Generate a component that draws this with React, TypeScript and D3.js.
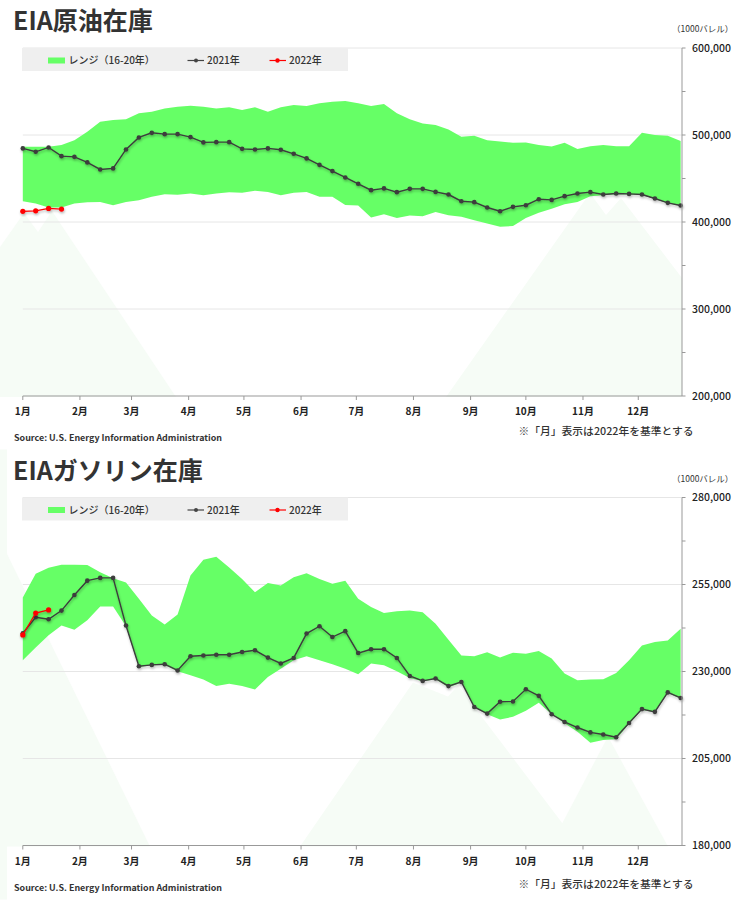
import React from "react";
import * as d3 from "d3";

// ---- data (values in 1000 barrels; weekly, 52 weeks) ----
const crudeHigh = [486.4, 486.4, 486.4, 488.4, 494.1, 503.7, 515.2, 517.1, 518.0, 524.9, 526.7, 530.6, 532.5, 533.6, 532.5, 530.6, 531.8, 528.7, 531.8, 526.7, 531.8, 534.4, 533.3, 536.4, 538.2, 539.0, 536.4, 533.3, 535.6, 524.9, 518.0, 513.3, 511.4, 506.4, 497.9, 499.1, 494.1, 492.6, 491.0, 491.5, 488.4, 486.9, 491.0, 483.8, 487.2, 488.4, 487.2, 487.2, 502.5, 499.9, 499.1, 493.0];
const crudeLow = [423.9, 421.3, 416.7, 416.7, 421.3, 422.8, 423.1, 419.3, 423.1, 425.1, 428.9, 432.0, 431.2, 432.8, 430.8, 432.8, 434.3, 433.5, 435.8, 434.6, 430.8, 433.5, 434.6, 428.9, 428.9, 419.5, 419.0, 405.2, 409.0, 404.7, 407.5, 406.7, 411.6, 407.8, 405.9, 402.1, 398.3, 394.4, 395.5, 404.7, 410.5, 415.1, 420.5, 423.1, 429.7, 430.8, 432.0, 431.5, 431.0, 426.5, 421.5, 418.5];
const crude2021 = [484.6, 480.7, 485.7, 475.7, 474.9, 468.5, 460.4, 461.6, 483.4, 497.2, 502.5, 501.0, 501.0, 497.6, 491.5, 491.8, 491.8, 484.1, 483.4, 484.6, 483.0, 478.4, 473.1, 465.7, 458.5, 451.2, 443.9, 436.6, 438.6, 434.3, 438.1, 438.1, 434.6, 431.6, 423.9, 422.8, 416.7, 412.4, 417.4, 419.3, 426.2, 425.4, 429.7, 432.8, 434.3, 431.6, 432.8, 432.3, 431.6, 427.0, 422.0, 419.0];
const crude2022 = [412.3, 412.8, 415.6, 414.8];

const gasHigh = [251.3, 258.1, 259.8, 260.7, 260.7, 260.6, 258.5, 256.8, 255.6, 250.9, 246.1, 243.5, 246.4, 257.6, 262.1, 263.0, 259.9, 256.6, 252.8, 255.4, 254.7, 257.1, 258.2, 256.6, 255.2, 256.1, 250.9, 248.5, 246.8, 247.3, 247.5, 247.0, 243.7, 239.1, 234.6, 234.4, 235.5, 234.0, 235.4, 235.1, 235.9, 233.7, 229.4, 227.5, 227.7, 227.8, 229.6, 233.2, 237.5, 238.5, 238.9, 242.3];
const gasLow = [233.2, 236.9, 240.4, 243.2, 242.0, 244.7, 248.7, 248.7, 243.0, 231.3, 231.8, 231.9, 230.1, 228.9, 227.7, 225.8, 226.5, 225.8, 224.8, 228.4, 230.8, 233.2, 234.4, 233.2, 232.1, 230.8, 229.2, 232.3, 231.8, 230.1, 228.1, 227.2, 227.8, 225.5, 226.8, 219.7, 217.7, 216.2, 217.0, 218.7, 221.0, 217.7, 215.1, 212.7, 209.5, 210.3, 210.5, 215.0, 219.0, 218.2, 223.8, 222.2];
const gas2021 = [241.0, 245.6, 245.0, 247.5, 252.0, 256.1, 256.9, 256.9, 243.2, 231.5, 231.9, 232.1, 230.3, 234.4, 234.6, 234.8, 234.8, 235.6, 236.1, 234.0, 232.3, 233.9, 240.9, 243.0, 239.9, 241.6, 235.3, 236.4, 236.4, 233.9, 228.7, 227.3, 228.0, 225.8, 227.0, 219.8, 217.9, 221.3, 221.4, 224.9, 223.0, 217.7, 215.5, 213.9, 212.5, 211.9, 211.1, 215.2, 219.2, 218.4, 224.0, 222.4];
const gas2022 = [240.5, 246.8, 247.7];

const crudeTicks = [200000, 300000, 400000, 500000, 600000];
const gasTicks = [180000, 205000, 230000, 255000, 280000];

const legendLabels = ["レンジ（16-20年）", "2021年", "2022年"];
const unitLabel = "（1000バレル）";
const sourceText = "Source: U.S. Energy Information Administration";
const noteText = "※「月」表示は2022年を基準とする";

const FONT = "'Noto Sans CJK JP', 'Noto Sans', sans-serif";
const GREEN = "#66ff66";
const BG = "#f6fcf6";

const start = new Date(2022, 0, 1);
const end = new Date(2022, 11, 25);
const weekDate = (i: number) => d3.timeDay.offset(start, 7 * i);

type ChartProps = {
  title: string;
  off: number;
  noteOff: number;
  high: number[];
  low: number[];
  s2021: number[];
  s2022: number[];
  ticks: number[];
  bg: [number, number][][];
};

function Chart({ title, off, noteOff, high, low, s2021, s2022, ticks, bg }: ChartProps) {
  const x = d3.scaleTime().domain([start, end]).range([22.8, 682.5]);
  const y = d3
    .scaleLinear()
    .domain([ticks[0] / 1000, ticks[ticks.length - 1] / 1000])
    .range([396 + off, 48 + off]);
  const left = 22.8;
  const right = 682;
  const area = d3
    .area<number>()
    .x((_, i) => x(weekDate(i)))
    .y0((_, i) => y(low[i]))
    .y1((d) => y(d));
  const line = d3
    .line<number>()
    .x((_, i) => x(weekDate(i)))
    .y((d) => y(d));
  const months = d3.timeMonth.range(start, end);
  const minor = ticks.slice(0, -1).map((t, i) => (t + ticks[i + 1]) / 2);
  const fmt = d3.format(",");
  const poly = (pts: [number, number][]) =>
    pts.map((p) => `${p[0]},${p[1] + off}`).join(" ");

  return (
    <g>
      {bg.map((pts, i) => (
        <polygon key={i} points={poly(pts)} fill={BG} />
      ))}
      <text x={13} y={30 + off} fontSize={25} fontWeight={700} fill="#333" fontFamily={FONT}>
        {title}
      </text>
      <text x={672} y={32 + off} fontSize={8.5} fill="#333" fontFamily={FONT}>
        {unitLabel}
      </text>
      {ticks.slice(1).map((t) => (
        <line key={t} x1={left} x2={right} y1={y(t / 1000)} y2={y(t / 1000)} stroke="#e6e6e6" strokeWidth={1} />
      ))}
      <rect x={22} y={48 + off} width={326} height={23} fill="#efefef" />
      <rect x={48} y={57.5 + off} width={17} height={6} fill={GREEN} />
      <text x={68.5} y={64 + off} fontSize={10} fontWeight={500} fill="#333" fontFamily={FONT}>
        {legendLabels[0]}
      </text>
      <line x1={187.5} x2={204} y1={60.5 + off} y2={60.5 + off} stroke="#444" strokeWidth={1.2} />
      <circle cx={196} cy={60.5 + off} r={2} fill="#444" />
      <text x={207} y={64 + off} fontSize={10} fontWeight={500} fill="#333" fontFamily={FONT}>
        {legendLabels[1]}
      </text>
      <line x1={269.5} x2={286} y1={60.5 + off} y2={60.5 + off} stroke="#f00" strokeWidth={1.2} />
      <circle cx={277.5} cy={60.5 + off} r={2.2} fill="#f00" />
      <text x={289} y={64 + off} fontSize={10} fontWeight={500} fill="#333" fontFamily={FONT}>
        {legendLabels[2]}
      </text>
      <path d={area(high) || ""} fill={GREEN} />
      <g filter="url(#shadow)">
        <path d={line(s2021) || ""} fill="none" stroke="#3c3c3c" strokeWidth={1.4} />
        {s2021.map((v, i) => (
          <circle key={i} cx={x(weekDate(i))} cy={y(v)} r={2.3} fill="#3c3c3c" />
        ))}
      </g>
      <g filter="url(#shadow)">
        <path d={line(s2022) || ""} fill="none" stroke="#f00" strokeWidth={1.3} />
        {s2022.map((v, i) => (
          <circle key={i} cx={x(weekDate(i))} cy={y(v)} r={2.6} fill="#f00" />
        ))}
      </g>
      <line x1={left} x2={right} y1={396 + off} y2={396 + off} stroke="#999" strokeWidth={1} />
      <line x1={right} x2={right} y1={48 + off} y2={396 + off} stroke="#999" strokeWidth={1} />
      {months.map((m) => (
        <g key={m.getTime()}>
          <line x1={x(m)} x2={x(m)} y1={396 + off} y2={400 + off} stroke="#999" />
          <text x={x(m)} y={415 + off} textAnchor="middle" fontSize={10} fontWeight={600} fill="#222" fontFamily={FONT}>
            {`${m.getMonth() + 1}月`}
          </text>
        </g>
      ))}
      {ticks.map((t) => (
        <g key={t}>
          <line x1={right} x2={right + 3.5} y1={y(t / 1000)} y2={y(t / 1000)} stroke="#999" />
          <text x={692} y={y(t / 1000)} dy="0.35em" fontSize={10.5} fontWeight={500} fill="#222" fontFamily={FONT}>
            {fmt(t)}
          </text>
        </g>
      ))}
      {minor.map((t) => (
        <line key={t} x1={right} x2={right + 3.5} y1={y(t / 1000)} y2={y(t / 1000)} stroke="#999" />
      ))}
      <text x={14} y={441 + off} fontSize={8.5} fontWeight={600} fill="#333" fontFamily={FONT} textLength={208} lengthAdjust="spacingAndGlyphs">
        {sourceText}
      </text>
      <text x={518.5} y={435 + noteOff} fontSize={10} fontWeight={500} fill="#333" fontFamily={FONT} textLength={175} lengthAdjust="spacingAndGlyphs">
        {noteText}
      </text>
    </g>
  );
}

const crudeBg: [number, number][][] = [
  [[0, 247], [24, 213], [38, 232], [52, 211], [176, 397], [0, 397]],
  [[446, 397], [590, 193], [606, 215], [621, 198], [682, 278], [682, 397]],
];
const gasBg: [number, number][][] = [
  [[0, 0], [7, 0], [7, 450], [0, 450]],
  [[0, 90], [150, 397], [0, 397]],
  [[300, 397], [413, 233], [448, 247], [458, 236], [580, 397]],
  [[550, 397], [608, 287], [668, 397]],
];

export default function App() {
  return (
    <svg
      width={749}
      height={900}
      style={{ position: "absolute", left: 0, top: 0, display: "block", background: "#fff" }}
    >
      <defs>
        <filter id="shadow" x="-5%" y="-20%" width="110%" height="150%">
          <feDropShadow dx="0.6" dy="1.6" stdDeviation="1" floodColor="#000" floodOpacity="0.3" />
        </filter>
      </defs>
      <Chart title="EIA原油在庫" off={0} noteOff={0} high={crudeHigh} low={crudeLow} s2021={crude2021} s2022={crude2022} ticks={crudeTicks} bg={crudeBg} />
      <Chart title="EIAガソリン在庫" off={449.5} noteOff={453} high={gasHigh} low={gasLow} s2021={gas2021} s2022={gas2022} ticks={gasTicks} bg={gasBg} />
    </svg>
  );
}
